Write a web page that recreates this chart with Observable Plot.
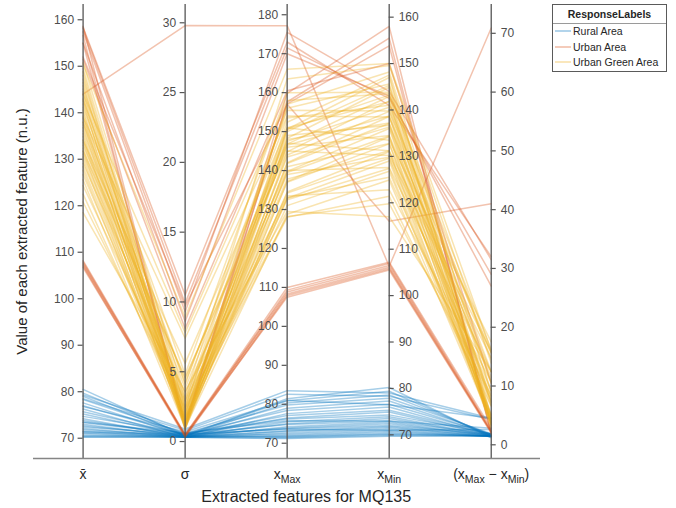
<!DOCTYPE html>
<html>
<head>
<meta charset="utf-8">
<script src="https://cdn.jsdelivr.net/npm/d3@7"></script>
<script src="https://cdn.jsdelivr.net/npm/@observablehq/plot@0.6"></script>
<style>
  body { margin: 0; background: #fff; font-family: "Liberation Sans", Arial, Helvetica, sans-serif; }
  #wrap { position: relative; width: 676px; height: 508px; }
  #legend { position: absolute; left: 552px; top: 4px; width: 115px; border: 1px solid #5a5a5a; background: #fff;
            font-size: 10.5px; color: #262626; box-sizing: border-box; }
  #legend .lt { font-weight: bold; text-align: center; height: 18px; line-height: 18px; border-bottom: 1px solid #9a9a9a; }
  #legend .li { height: 15.5px; line-height: 15.5px; white-space: nowrap; padding-left: 2px; }
  #legend .sw { display: inline-block; width: 16px; height: 2px; vertical-align: middle; margin-right: 2px; opacity: 0.3; position: relative; top: -1px; }
</style>
</head>
<body>
<div id="wrap"></div>
<script>
// ---------- data ----------
const features = ["x\u0304", "\u03c3", "xMax", "xMin", "(xMax \u2212 xMin)"];
const groupNames = ["Rural Area", "Urban Area", "Urban Green Area"];

const tickMean  = [70, 80, 90, 100, 110, 120, 130, 140, 150, 160];
const tickStd   = [0, 5, 10, 15, 20, 25, 30];
const tickMax   = [70, 80, 90, 100, 110, 120, 130, 140, 150, 160, 170, 180];
const tickMin   = [70, 80, 90, 100, 110, 120, 130, 140, 150, 160];
const tickRange = [0, 10, 20, 30, 40, 50, 60, 70];

const ruralMean  = [80.5, 79.7, 79.0, 78.3, 77.6, 77.0, 76.3, 75.7, 75.2, 74.7, 74.2, 73.8, 73.4, 73.0, 72.7, 72.4, 72.1, 71.8, 71.5, 71.2, 71.0, 70.7, 70.5, 70.3, 70.2, 79.3, 78.5, 76.8, 73.5, 71.4];
const ruralStd   = [0.4, 0.5, 0.4, 0.6, 0.4, 0.5, 0.3, 0.5, 0.4, 0.6, 0.3, 0.4, 0.5, 0.3, 0.4, 0.5, 0.3, 0.4, 0.3, 0.4, 0.3, 0.3, 0.4, 0.3, 0.3, 0.9, 0.8, 0.7, 0.6, 0.5];
const ruralMax   = [81.4, 80.9, 80.3, 79.8, 79.0, 78.4, 77.6, 77.1, 76.5, 76.2, 75.5, 75.0, 74.8, 74.2, 73.9, 73.7, 73.2, 73.0, 72.6, 72.3, 72.0, 71.8, 71.6, 71.4, 71.2, 83.5, 82.6, 81.0, 75.8, 73.6];
const ruralMin   = [80.2, 79.4, 78.6, 77.9, 77.3, 76.6, 76.0, 75.3, 74.9, 74.3, 73.9, 73.5, 73.0, 72.7, 72.4, 72.0, 71.8, 71.5, 71.2, 70.9, 70.6, 70.3, 70.1, 69.9, 69.7, 79.0, 78.3, 76.5, 73.0, 71.0];
const ruralRange = [1.2, 1.5, 1.7, 1.9, 1.7, 1.8, 1.6, 1.8, 1.6, 1.9, 1.6, 1.5, 1.8, 1.5, 1.5, 1.7, 1.4, 1.5, 1.4, 1.4, 1.4, 1.5, 1.5, 1.5, 1.5, 4.5, 4.3, 4.5, 2.8, 2.6];

const urbanMean  = [108.2, 107.9, 107.6, 107.3, 107.0, 106.7, 144.0, 158.4, 158.1, 157.4, 155.0, 152.0, 158.6, 156.6, 154.9, 151.5];
const urbanStd   = [0.5, 0.4, 0.5, 0.4, 0.3, 0.4, 29.8, 10.5, 9.9, 9.3, 8.6, 9.7, 1.1, 0.9, 1.3, 8.1];
const urbanMax   = [110.0, 109.3, 108.8, 108.3, 107.9, 107.5, 177.2, 173.0, 171.5, 175.5, 170.0, 157.0, 159.8, 157.6, 157.1, 160.5];
const urbanMin   = [107.2, 106.9, 106.5, 106.1, 105.8, 105.5, 106.3, 141.0, 142.5, 144.0, 143.0, 116.0, 158.0, 155.5, 153.8, 150.0];
const urbanRange = [2.8, 2.4, 2.3, 2.2, 2.1, 2.0, 70.9, 32.0, 29.0, 31.5, 27.0, 41.0, 1.8, 2.1, 3.3, 10.5];

const greenMean  = [150.8, 149.6, 148.8, 148.0, 147.2, 146.5, 145.8, 145.1, 144.5, 143.8, 143.1, 142.5, 141.9, 141.2, 140.6, 140.0, 139.3, 138.7, 138.0, 137.4, 136.8, 136.1, 135.5, 134.9, 134.2, 133.6, 133.0, 132.4, 131.7, 131.1, 130.5, 129.8, 129.1, 128.4, 127.6, 126.7, 125.6, 124.3, 122.5, 120.8, 118.5, 150.5, 144.0, 139.0, 134.0, 142.8, 137.9, 131.8];
const greenStd   = [3.2, 2.4, 1.6, 1.2, 2.9, 1.5, 1.0, 4.8, 2.0, 1.3, 2.5, 0.9, 1.9, 4.1, 1.4, 2.2, 1.0, 2.8, 1.5, 2.0, 1.2, 3.1, 1.7, 0.9, 2.3, 1.4, 4.5, 1.8, 1.1, 2.6, 1.5, 1.2, 3.5, 1.7, 1.3, 2.1, 1.0, 2.9, 1.8, 2.4, 3.6, 8.9, 7.8, 7.4, 5.6, 4.2, 3.8, 4.6];
const greenMax   = [163.5, 157.0, 152.4, 150.6, 156.0, 150.0, 148.3, 160.0, 150.5, 146.8, 151.0, 144.8, 147.5, 155.5, 144.0, 146.5, 142.0, 148.0, 141.8, 143.5, 139.8, 146.0, 139.5, 137.2, 141.0, 137.0, 147.0, 137.8, 134.5, 139.0, 134.2, 132.9, 140.0, 132.5, 131.0, 133.0, 128.8, 133.5, 128.0, 128.2, 129.5, 166.0, 158.0, 154.0, 151.0, 153.5, 149.0, 145.0];
const greenMin   = [149.6, 148.2, 147.5, 147.0, 145.6, 145.3, 144.9, 143.8, 143.2, 142.9, 141.8, 141.9, 140.6, 139.8, 139.7, 138.7, 138.6, 137.2, 137.1, 136.3, 136.0, 134.5, 134.4, 134.2, 132.8, 132.7, 131.2, 131.2, 131.0, 129.8, 129.6, 129.0, 127.6, 127.4, 126.8, 125.5, 124.9, 122.8, 121.4, 119.8, 117.0, 150.0, 143.5, 138.5, 133.5, 141.0, 136.7, 130.2];
const greenRange = [13.9, 8.8, 4.9, 3.6, 10.4, 4.7, 3.4, 16.2, 7.3, 3.9, 9.2, 2.9, 6.9, 15.7, 4.3, 7.8, 3.4, 10.8, 4.7, 7.2, 3.8, 11.5, 5.1, 3.0, 8.2, 4.3, 15.8, 6.6, 3.5, 9.2, 4.6, 3.9, 12.4, 5.1, 4.2, 7.5, 3.9, 10.7, 6.6, 8.4, 12.5, 16.0, 14.5, 15.5, 17.5, 12.5, 12.3, 14.8];

// ---------- per-axis scale domains (bottom, top of each coordinate axis) ----------
const axisDomains = [[65.64, 163.28], [-1.215, 31.31], [66.08, 182.63], [64.9, 162.73], [-2.33, 74.9]];
const axisTicks = [tickMean, tickStd, tickMax, tickMin, tickRange];
const groupColors = ["#0072BD", "#D95319", "#EDB120"];

const groups = [
  {name: groupNames[0], cols: [ruralMean, ruralStd, ruralMax, ruralMin, ruralRange]},
  {name: groupNames[1], cols: [urbanMean, urbanStd, urbanMax, urbanMin, urbanRange]},
  {name: groupNames[2], cols: [greenMean, greenStd, greenMax, greenMin, greenRange]}
];

const norm = (d, v) => (v - axisDomains[d][0]) / (axisDomains[d][1] - axisDomains[d][0]);

const rows = [];
groups.forEach((g) => {
  g.cols[0].forEach((_, i) => {
    for (let d = 0; d < 5; d++) {
      rows.push({id: g.name + "-" + i, group: g.name, axis: d, norm: norm(d, g.cols[d][i])});
    }
  });
});

const tickRows = [];
axisTicks.forEach((ts, d) => ts.forEach(v => tickRows.push({axis: d, norm: norm(d, v), label: String(v), side: d < 3 ? "left" : "right"})));
const leftTicks = tickRows.filter(t => t.side === "left");
const rightTicks = tickRows.filter(t => t.side === "right");
const axisIdx = features.map((_, i) => i);

const W = 676, H = 508, mL = 33, mR = 136, mT = 4, mB = 50;
const xDom = [-0.486, 4.483];
const tk = 5 / ((W - mL - mR) / (xDom[1] - xDom[0]));

const plot = Plot.plot({
  width: W, height: H,
  marginLeft: mL, marginRight: mR, marginTop: mT, marginBottom: mB,
  x: {domain: xDom, axis: null},
  y: {domain: [0, 1], axis: null},
  color: {domain: groupNames, range: groupColors},
  style: {fontFamily: '"Liberation Sans", Arial, Helvetica, sans-serif', background: "#fff", overflow: "visible"},
  marks: [
    Plot.line(rows, {x: "axis", y: "norm", z: "id", stroke: "group", strokeOpacity: 0.35, strokeWidth: 1.5}),
    Plot.ruleX(axisIdx, {x: d => d, y1: 0, y2: 1, stroke: "#555", strokeWidth: 1.3}),
    Plot.ruleY([0], {stroke: "#858585", strokeWidth: 1.6}),
    Plot.ruleY(leftTicks, {x1: d => d.axis - tk, x2: d => d.axis, y: "norm", stroke: "#555", strokeWidth: 1.2}),
    Plot.ruleY(rightTicks, {x1: d => d.axis, x2: d => d.axis + tk, y: "norm", stroke: "#555", strokeWidth: 1.2}),
    Plot.text(leftTicks, {x: "axis", y: "norm", text: "label", textAnchor: "end", dx: -9, fill: "#4d4d4d", fontSize: 12}),
    Plot.text(rightTicks, {x: "axis", y: "norm", text: "label", textAnchor: "start", dx: 9.5, fill: "#4d4d4d", fontSize: 12}),
    Plot.text(features, {x: (d, i) => i, y: () => 0, text: d => d, dy: 16, fill: "#262626", fontSize: 14}),
    Plot.text(["Extracted features for MQ135"], {x: () => 2, y: () => 0, text: d => d, dx: 19, dy: 38, fill: "#262626", fontSize: 16}),
    Plot.text(["Value of each extracted feature (n.u.)"], {frameAnchor: "left", text: d => d, rotate: -90, textAnchor: "middle", dx: -11, fill: "#262626", fontSize: 15})
  ]
});

// subscripts for Max / Min in the feature labels
const NS = "http://www.w3.org/2000/svg";
plot.querySelectorAll("text").forEach(t => {
  const s = t.textContent;
  if (!features.includes(s)) return;
  const parts = s.split(/(Max|Min)/).filter(p => p !== "");
  if (parts.length === 1) return;
  t.textContent = "";
  let shifted = false;
  parts.forEach(p => {
    const ts = document.createElementNS(NS, "tspan");
    const sub = (p === "Max" || p === "Min");
    if (sub && !shifted) { ts.setAttribute("dy", "4"); shifted = true; }
    else if (!sub && shifted) { ts.setAttribute("dy", "-4"); shifted = false; }
    if (sub) ts.setAttribute("font-size", "10.5");
    ts.textContent = p;
    t.appendChild(ts);
  });
});

const wrap = document.getElementById("wrap");
wrap.appendChild(plot);

const legend = document.createElement("div");
legend.id = "legend";
legend.innerHTML = '<div class="lt">ResponseLabels</div>' +
  groupNames.map((n, i) => '<div class="li"><span class="sw" style="background:' + groupColors[i] + '"></span>' + n + '</div>').join("");
wrap.appendChild(legend);
</script>
</body>
</html>
